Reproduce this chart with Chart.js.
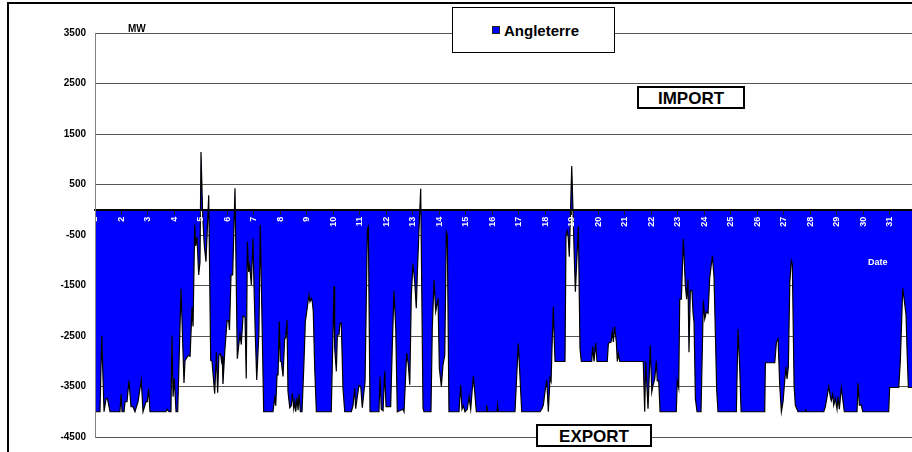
<!DOCTYPE html>
<html>
<head>
<meta charset="utf-8">
<script src="https://cdn.jsdelivr.net/npm/chart.js@4.4.1/dist/chart.umd.min.js"></script>
<style>
  body { margin: 0; background: #fff; overflow: hidden; font-family: "Liberation Sans", Arial, sans-serif; }
  #wrap { position: relative; width: 912px; height: 452px; overflow: hidden; }
  #frame { position: absolute; left: 7px; top: 2px; width: 2000px; height: 2000px;
           border-left: 2px solid #000; border-top: 2px solid #000; }
  canvas { position: absolute; left: 0; top: 0; }
  .note { position: absolute; font-weight: bold; white-space: nowrap; }
  .box { position: absolute; box-sizing: border-box; background: #fff; border: 2px solid #000;
         font-weight: bold; font-size: 17px; line-height: 19px; text-align: center; padding-top: 1px; }
  #legend { position: absolute; left: 452px; top: 7px; width: 163px; height: 46px; box-sizing: border-box;
            background: #fff; border: 1px solid #000; }
  #legend .mark { position: absolute; width: 8px; height: 8px; box-sizing: border-box; border: 1px solid #222; }
  #legend .txt { position: absolute; font-weight: bold; font-size: 15px; line-height: 15px; }
</style>
</head>
<body>
<div id="wrap">
  <div id="frame"></div>
  <canvas id="chart" width="912" height="452"></canvas>
  <div class="note" style="left:128px; top:24px; font-size:10px; line-height:10px;">MW</div>
  <div class="note" style="left:868px; top:258px; font-size:9px; line-height:9px; color:#fff;">Date</div>
  <div class="box" style="left:637px; top:86px; width:108px; height:23px;">IMPORT</div>
  <div class="box" style="left:536px; top:424px; width:116px; height:23px;">EXPORT</div>
  <div id="legend"></div>
</div>
<script>
// days of the month shown under the zero line
const dayLabels = ['1', '2', '3', '4', '5', '6', '7', '8', '9', '10', '11', '12', '13', '14', '15', '16',
    '17', '18', '19', '20', '21', '22', '23', '24', '25', '26', '27', '28', '29', '30', '31'];

// hours since day 1 00:00
const hourIndex = [
    0, 4.5, 6.1, 8.2, 10.0, 11.3, 13.6, 22.6, 23.6, 24.5,
    26.3, 27.2, 29.0, 30.8, 32.6, 34.4, 36.2, 39.0, 41.9, 43.5,
    46.2, 47.4, 48.6, 49.8, 64.3, 65.2, 67.0, 68.8, 69.7, 70.7,
    71.8, 73.4, 74.9, 77.9, 80.6, 81.5, 84.2, 86.1, 87.9, 88.8,
    90.3, 91.2, 92.4, 93.9, 95.1, 96.0, 97.6, 99.0, 100.5, 103.0,
    104.8, 106.0, 108.4, 109.9, 111.1, 112.3, 113.7, 114.6, 115.3, 115.9,
    117.5, 119.6, 121.1, 121.8, 123.2, 124.7, 126.8, 128.9, 131.3, 132.5,
    134.1, 135.9, 137.0, 138.0, 139.2, 140.1, 141.6, 143.1, 144.0, 145.2,
    146.5, 148.5, 149.7, 152.8, 161.2, 162.8, 163.7, 164.9, 165.8, 166.9,
    167.8, 168.8, 170.3, 171.8, 172.7, 173.9, 174.8, 176.4, 177.8, 178.7,
    180.0, 180.9, 181.8, 183.0, 183.9, 184.8, 186.0, 187.5, 189.3, 190.5,
    192.0, 192.9, 193.8, 194.7, 195.9, 196.8, 197.7, 199.0, 200.5, 214.0,
    216.5, 217.1, 218.6, 219.5, 221.0, 221.9, 223.1, 224.6, 226.2, 232.2,
    233.7, 235.2, 236.1, 237.6, 239.1, 240.7, 242.1, 243.7, 244.6, 246.7,
    247.6, 249.1, 257.2, 258.2, 259.3, 260.9, 262.4, 263.6, 267.8, 269.3,
    270.8, 272.4, 273.8, 279.0, 279.9, 282.3, 283.8, 285.1, 286.5, 288.0,
    289.6, 291.0, 292.0, 293.5, 295.0, 297.1, 298.0, 304.3, 305.5, 307.1,
    308.6, 310.7, 311.9, 313.7, 315.2, 316.8, 318.2, 319.1, 320.6, 329.7,
    331.2, 332.4, 333.6, 335.1, 337.2, 338.8, 340.3, 341.8, 342.7, 343.9,
    345.4, 354.2, 354.8, 355.5, 364.1, 364.6, 365.3, 380.4, 383.4, 386.5,
    403.1, 404.6, 406.1, 407.6, 409.2, 410.6, 412.1, 413.1, 414.2, 415.1,
    416.0, 416.7, 425.7, 426.6, 427.8, 428.7, 429.6, 431.8, 433.9, 435.1,
    437.8, 439.3, 440.5, 449.9, 450.8, 452.0, 453.5, 454.7, 464.0, 465.0,
    467.4, 468.6, 469.5, 470.7, 472.2, 473.1, 474.0, 475.3, 496.6, 497.9,
    498.8, 500.9, 503.0, 504.3, 505.4, 507.0, 508.4, 509.3, 510.6, 511.8,
    526.5, 527.4, 528.7, 529.6, 531.1, 532.9, 534.7, 535.9, 537.1, 538.0,
    539.2, 540.7, 541.7, 542.6, 543.8, 545.3, 548.9, 551.0, 552.3, 553.7,
    555.3, 556.8, 559.2, 560.7, 561.9, 563.1, 564.3, 580.9, 582.4, 584.0,
    585.2, 606.6, 607.2, 615.7, 617.2, 618.7, 620.2, 621.7, 623.2, 624.7,
    625.9, 626.8, 628.0, 629.3, 630.7, 631.6, 633.2, 634.3, 635.6, 636.8,
    643.1, 643.6, 644.0, 657.9, 660.1, 661.5, 663.1, 664.6, 666.0, 666.9,
    668.2, 669.1, 670.6, 672.1, 673.0, 674.2, 676.0, 677.3, 678.7, 690.2,
    691.1, 692.3, 694.1, 695.4, 718.9, 719.7, 728.0, 729.4, 731.6, 733.1,
    734.6, 735.7, 736.7, 740.0
];

// exchange with England in MW (negative = export)
const angleterreMW = [
    -4000, -4000, -2500, -4000, -3740, -3740, -4000, -4000, -3650, -4000,
    -4000, -3800, -3800, -3380, -3900, -3900, -4000, -3800, -3370, -4000,
    -3800, -3800, -3545, -4000, -4000, -3950, -4000, -4000, -2490, -3700,
    -3335, -4000, -4000, -1570, -3430, -2990, -2890, -2900, -1930, -2310,
    -300, -715, -540, -1290, -1040, 1142, -150, -700, -1030, 286,
    -2985, -3000, -3645, -2820, -3625, -2875, -2850, -3000, -2900, -3450,
    -2820, -2195, -2200, -2380, -1290, -1290, 425, -2950, -2460, -2670,
    -2100, -2130, -3340, -635, -1230, -1100, -1490, -570, -1490, -2480,
    -3370, -2410, -300, -4000, -4000, -3720, -3880, -3270, -3270, -2215,
    -3005, -3005, -3300, -2545, -2545, -2185, -3600, -3920, -3880, -3630,
    -3940, -3800, -4000, -3720, -3970, -3650, -4000, -4000, -3005, -2215,
    -1985, -1820, -1690, -1820, -1755, -1820, -2015, -3140, -4000, -4000,
    -1515, -2740, -3200, -2480, -2480, -2250, -2250, -3530, -4000, -4000,
    -3880, -3530, -3940, -3700, -3480, -3500, -3920, -3580, -3415, -385,
    -340, -4000, -4000, -3300, -3950, -3980, -3200, -3900, -3900, -2680,
    -1610, -2345, -4000, -3950, -4000, -2840, -3070, -3465, -1690, -1065,
    -1425, -1950, -1230, -370, 418, -3930, -4000, -4000, -2345, -1390,
    -2015, -1755, -3140, -3500, -3070, -2880, -440, -500, -4000, -4000,
    -3470, -3950, -3880, -4000, -3950, -3700, -3950, -3530, -3300, -3600,
    -4000, -4000, -3870, -4000, -4000, -3870, -4000, -4000, -2645, -4000,
    -4000, -3950, -3870, -3600, -3370, -4000, -3330, -3400, -2545, -1920,
    -2600, -3005, -3005, -505, -420, -560, -930, 865, -770, -1625,
    -320, -2750, -3005, -3005, -2710, -3005, -2640, -3005, -3005, -2640,
    -2620, -2415, -2620, -2315, -2620, -3005, -2850, -3005, -3005, -4000,
    -3000, -3940, -2690, -3610, -3480, -3350, -2990, -3390, -3390, -4000,
    -4000, -3390, -3530, -1770, -1770, -580, -1500, -1770, -1370, -2820,
    -1600, -1600, -2050, -2230, -3740, -4000, -4000, -1800, -2160, -2020,
    -2050, -1340, -910, -1340, -2430, -3570, -4000, -4000, -2360, -3170,
    -4000, -4000, -3030, -3030, -2620, -2560, -3480, -4000, -3800, -3390,
    -3110, -3350, -3110, -1440, -1010, -1070, -3480, -3870, -3940, -4000,
    -4000, -3950, -4000, -4000, -4000, -3900, -3700, -3500, -3700, -3780,
    -3650, -3870, -3740, -3950, -3700, -3950, -3520, -3750, -4000, -4000,
    -3430, -3870, -3870, -4000, -4000, -3520, -3520, -3005, -1555, -1810,
    -2085, -2900, -3520, -3520
];

const seriesName = 'Angleterre';
const seriesColor = '#0000FF';

// legend box
const legend = document.getElementById('legend');
legend.innerHTML = '<div class="mark" style="left:39px; top:18px; background:' + seriesColor + '"></div>' +
    '<div class="txt" style="left:51px; top:15px;">' + seriesName + '</div>';

const points = hourIndex.map((h, i) => ({ x: h, y: angleterreMW[i] }));
const labelFont = { family: '"Liberation Sans", Arial, sans-serif', weight: 'bold' };

new Chart(document.getElementById('chart'), {
    type: 'line',
    data: {
        datasets: [{
            label: seriesName,
            data: points,
            borderColor: '#000',
            borderWidth: 1.2,
            backgroundColor: seriesColor,
            fill: 'origin',
            pointRadius: 0,
            tension: 0
        }]
    },
    options: {
        responsive: false,
        animation: false,
        devicePixelRatio: 1,
        layout: { padding: { top: 33, right: 0, bottom: 14, left: 0 } },
        plugins: {
            legend: { display: false },
            tooltip: { enabled: false }
        },
        scales: {
            x: {
                type: 'linear',
                position: { y: 0 },
                min: 0,
                max: 740,
                // axis sits on the zero line, so it takes no room of its own
                afterFit: function (scale) { scale.height = 0; },
                ticks: {
                    stepSize: 24,
                    includeBounds: false,
                    autoSkip: false,
                    minRotation: 90,
                    maxRotation: 90,
                    padding: 3,
                    color: '#fff',
                    z: 1,
                    font: { ...labelFont, size: 9 },
                    callback: function (value) {
                        return dayLabels[Math.round(value / 24)] || '';
                    }
                },
                grid: { drawOnChartArea: false, drawTicks: true, tickLength: 4, tickColor: '#222', z: 1 },
                border: { display: true, color: '#000', width: 2, z: 1 }
            },
            y: {
                min: -4500,
                max: 3500,
                afterFit: function (scale) { scale.width = 95; },
                ticks: {
                    stepSize: 1000,
                    padding: 9,
                    color: '#000',
                    font: { ...labelFont, size: 10 },
                    callback: function (value) { return String(value); }
                },
                grid: { color: '#555', drawTicks: false },
                border: { display: true, color: '#808080', width: 1, z: 1 }
            }
        }
    }
});
</script>
</body>
</html>
